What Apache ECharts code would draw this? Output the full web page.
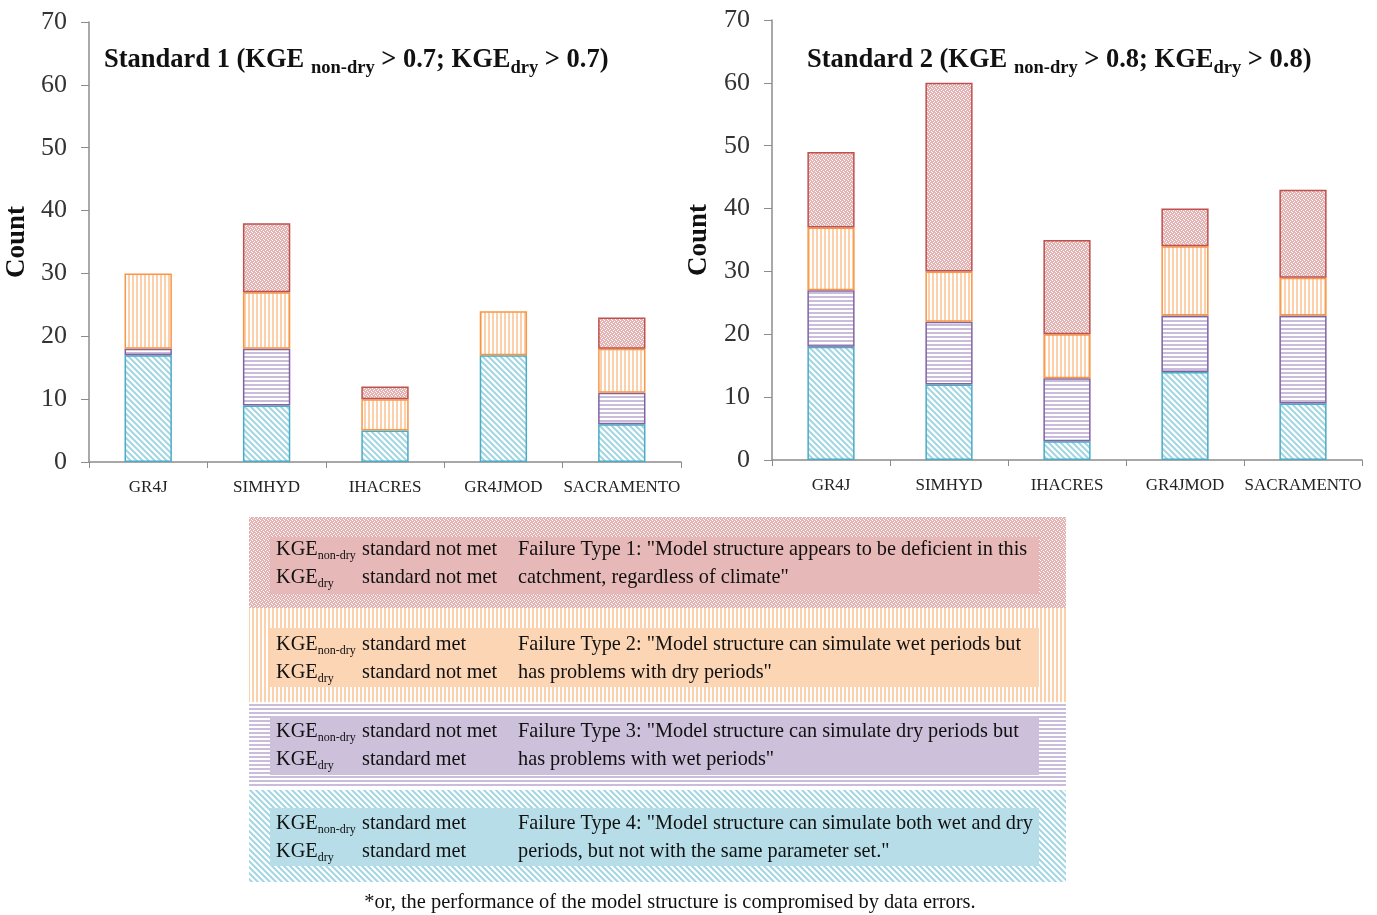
<!DOCTYPE html>
<html>
<head>
<meta charset="utf-8">
<script src="https://cdn.jsdelivr.net/npm/echarts@6/dist/echarts.min.js"></script>
<style>
  html, body { margin: 0; padding: 0; background: #fff; }
  #chart_one { width: 1377px; height: 915px; }
</style>
</head>
<body>
<div id="chart_one"></div>
<script>
const models = ['GR4J', 'SIMHYD', 'IHACRES', 'GR4JMOD', 'SACRAMENTO'];
const yTicks = [0, 10, 20, 30, 40, 50, 60, 70];

// Standard 1 (KGE > 0.7)
const s1Type4 = [17, 9, 5, 17, 6];
const s1Type3 = [1, 9, 0, 0, 5];
const s1Type2 = [12, 9, 5, 7, 7];
const s1Type1 = [0, 11, 2, 0, 5];

// Standard 2 (KGE > 0.8)
const s2Type4 = [18, 12, 3, 14, 9];
const s2Type3 = [9, 10, 10, 9, 14];
const s2Type2 = [10, 8, 7, 11, 6];
const s2Type1 = [12, 30, 15, 6, 14];

var theDom = document.getElementById('chart_one');
var myChart = echarts.init(theDom);

function makePattern(kind, fg, bg) {
  var c = document.createElement('canvas');
  var ctx = c.getContext('2d');
  if (kind === 'diag') {
    c.width = 6; c.height = 6;
    ctx.fillStyle = bg; ctx.fillRect(0, 0, 6, 6);
    ctx.strokeStyle = fg; ctx.lineWidth = 2;
    ctx.beginPath();
    ctx.moveTo(-1, -1); ctx.lineTo(7, 7);
    ctx.moveTo(-1, 5); ctx.lineTo(1, 7);
    ctx.moveTo(5, -1); ctx.lineTo(7, 1);
    ctx.stroke();
  } else if (kind === 'hline') {
    c.width = 4; c.height = 4;
    ctx.fillStyle = bg; ctx.fillRect(0, 0, 4, 4);
    ctx.fillStyle = fg; ctx.fillRect(0, 0, 4, 2);
  } else if (kind === 'vline') {
    c.width = 4; c.height = 4;
    ctx.fillStyle = bg; ctx.fillRect(0, 0, 4, 4);
    ctx.fillStyle = fg; ctx.fillRect(0, 0, 2, 4);
  } else {
    c.width = 4; c.height = 4;
    ctx.fillStyle = fg; ctx.fillRect(0, 0, 4, 4);
    ctx.fillStyle = bg;
    ctx.fillRect(0, 0, 1, 1); ctx.fillRect(2, 1, 1, 1);
    ctx.fillRect(1, 2, 1, 1); ctx.fillRect(3, 3, 1, 1);
  }
  return { image: c, repeat: 'repeat' };
}

var patBlue = makePattern('diag', '#a3d6e3', '#ffffff');
var patPurple = makePattern('hline', '#c9bddb', '#ffffff');
var patOrange = makePattern('vline', '#fcd0aa', '#ffffff');
var patRed = makePattern('dots', '#e4b3b3', '#ffffff');

var types = [
  { key: 4, fill: patBlue, border: '#4bacc6' },
  { key: 3, fill: patPurple, border: '#8064a2' },
  { key: 2, fill: patOrange, border: '#f79646' },
  { key: 1, fill: patRed, border: '#c0504d' }
];
var dataSets = [
  [s1Type4, s1Type3, s1Type2, s1Type1],
  [s2Type4, s2Type3, s2Type2, s2Type1]
];

function noZero(arr) {
  return arr.map(function (v) { return v === 0 ? '-' : v; });
}

var serif = '"Liberation Serif", "DejaVu Serif", serif';

var series = [];
dataSets.forEach(function (set, gi) {
  set.forEach(function (vals, ti) {
    series.push({
      name: 'Failure Type ' + types[ti].key,
      type: 'bar',
      stack: 'std' + gi,
      xAxisIndex: gi,
      yAxisIndex: gi,
      barWidth: '40%',
      itemStyle: { color: types[ti].fill, borderColor: types[ti].border, borderWidth: 1.5 },
      emphasis: { disabled: true },
      data: noZero(vals)
    });
  });
});

function xAxisCfg(gi) {
  return {
    type: 'category',
    gridIndex: gi,
    data: models,
    axisLine: { lineStyle: { color: '#8c8c8c', width: 1.5 } },
    axisTick: { show: true, length: 6, lineStyle: { color: '#8c8c8c' } },
    axisLabel: { interval: 0, color: '#222', fontFamily: serif, fontSize: 17, margin: 17 }
  };
}
function yAxisCfg(gi, gap) {
  return {
    type: 'value',
    gridIndex: gi,
    min: yTicks[0],
    max: yTicks[yTicks.length - 1],
    interval: 10,
    name: 'Count',
    nameLocation: 'middle',
    nameGap: gap,
    nameTextStyle: { fontFamily: serif, fontWeight: 'bold', fontSize: 27, color: '#111' },
    axisLine: { show: true, lineStyle: { color: '#8c8c8c', width: 1.5 } },
    axisTick: { show: true, length: 8, lineStyle: { color: '#8c8c8c' } },
    axisLabel: { color: '#333', fontFamily: serif, fontSize: 26, margin: 22 },
    splitLine: { show: false }
  };
}

var titleRich = {
  m: { fontFamily: serif, fontWeight: 'bold', fontSize: 26.5, color: '#111', lineHeight: 26, verticalAlign: 'top' },
  s: { fontFamily: serif, fontWeight: 'bold', fontSize: 18.5, color: '#111', lineHeight: 18, verticalAlign: 'top', padding: [12, 0, 0, 0] }
};

// legend block
var legendRows = [
  { y: 517, h: 91, fill: patRed, box: '#e6b8b7', by: 537, bh: 57, ty: 550, a: 'standard not met', b: 'standard not met',
    t1: 'Failure Type 1: "Model structure appears to be deficient in this', t2: 'catchment, regardless of climate"' },
  { y: 608, h: 94, fill: patOrange, box: '#fcd5b4', by: 628, bh: 59, ty: 645, a: 'standard met', b: 'standard not met',
    t1: 'Failure Type 2: "Model structure can simulate wet periods but', t2: 'has problems with dry periods"' },
  { y: 702, h: 86, fill: patPurple, box: '#ccc0da', by: 716, bh: 59, ty: 732, a: 'standard not met', b: 'standard met',
    t1: 'Failure Type 3: "Model structure can simulate dry periods but', t2: 'has problems with wet periods"' },
  { y: 790, h: 92, fill: patBlue, box: '#b7dee8', by: 808, bh: 58, ty: 824, a: 'standard met', b: 'standard met',
    t1: 'Failure Type 4: "Model structure can simulate both wet and dry', t2: 'periods, but not with the same parameter set."' }
];

var legendSize = 20.3;
var measureCtx = document.createElement('canvas').getContext('2d');
measureCtx.font = legendSize + 'px "Liberation Serif"';
var kgeWidth = measureCtx.measureText('KGE').width;

var txt = { fontFamily: serif, fontSize: legendSize, fill: '#111', textVerticalAlign: 'middle' };
var graphics = [];
legendRows.forEach(function (r) {
  graphics.push({ type: 'rect', shape: { x: 249, y: r.y, width: 817, height: r.h }, style: { fill: r.fill } });
  graphics.push({ type: 'rect', shape: { x: 270, y: r.by, width: 769, height: r.bh }, style: { fill: r.box } });
  var y1 = r.ty, y2 = r.ty + 28;
  graphics.push({ type: 'text', x: 276, y: y1, style: Object.assign({ text: 'KGE' }, txt) });
  graphics.push({ type: 'text', x: 276 + kgeWidth, y: y1 + 6, style: Object.assign({}, txt, { text: 'non-dry', fontSize: 12 }) });
  graphics.push({ type: 'text', x: 276, y: y2, style: Object.assign({ text: 'KGE' }, txt) });
  graphics.push({ type: 'text', x: 276 + kgeWidth, y: y2 + 6, style: Object.assign({}, txt, { text: 'dry', fontSize: 12 }) });
  graphics.push({ type: 'text', x: 362, y: y1, style: Object.assign({ text: r.a }, txt) });
  graphics.push({ type: 'text', x: 362, y: y2, style: Object.assign({ text: r.b }, txt) });
  graphics.push({ type: 'text', x: 518, y: y1, style: Object.assign({ text: r.t1 }, txt) });
  graphics.push({ type: 'text', x: 518, y: y2, style: Object.assign({ text: r.t2 }, txt) });
});
graphics.push({ type: 'text', x: 670, y: 903, style: Object.assign({}, txt, {
  text: '*or, the performance of the model structure is compromised by data errors.', textAlign: 'center', fontSize: 20.4 }) });

var option = {
  animation: false,
  title: [
    { left: 104, top: 47, padding: 0, text: '{m|Standard 1 (KGE }{s|non-dry}{m| > 0.7; KGE}{s|dry}{m| > 0.7)}', textStyle: { rich: titleRich } },
    { left: 807, top: 47, padding: 0, text: '{m|Standard 2 (KGE }{s|non-dry}{m| > 0.8; KGE}{s|dry}{m| > 0.8)}', textStyle: { rich: titleRich } }
  ],
  grid: [
    { left: 89, top: 22, width: 592, height: 440, outerBoundsMode: 'none' },
    { left: 772, top: 20, width: 590, height: 440, outerBoundsMode: 'none' }
  ],
  xAxis: [xAxisCfg(0), xAxisCfg(1)],
  yAxis: [yAxisCfg(0, 58), yAxisCfg(1, 59)],
  graphic: graphics,
  series: series
};

myChart.setOption(option);
window.onresize = function () {
  myChart.resize();
};
</script>
</body>
</html>
